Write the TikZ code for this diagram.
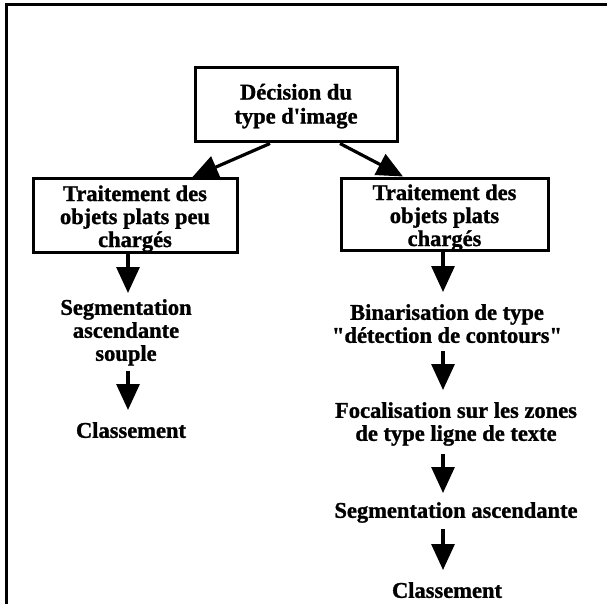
\documentclass[tikz,border=0pt]{standalone}
\usepackage{fontspec}
\newfontfamily\libser{Liberation Serif}[BoldFeatures={FakeBold=1.2}]
\usetikzlibrary{arrows.meta}
\begin{document}
\begin{tikzpicture}[x=1pt,y=-1pt,
  lbl/.style={inner sep=0pt, align=center, font=\libser\bfseries\fontsize{22.5pt}{23pt}\selectfont},
  txt/.style={lbl, anchor=north},
  boxnode/.style={lbl, draw, line width=3pt},
  arr/.style={line width=3.2pt, -{Triangle[length=26pt,width=23pt]}}]
\useasboundingbox (0,0) rectangle (607,604);
\draw[line width=3pt] (6,604) |- (607,5);
\node[boxnode, minimum width=202pt, minimum height=74pt, text height=42pt, font=\libser\bfseries\fontsize{22.5pt}{24pt}\selectfont] (top) at (296,105) {Décision du\\type d'image};
\node[boxnode, minimum width=204pt, minimum height=73pt, text height=68pt] (lbox) at (135,215.5) {Traitement des\\objets plats peu\\chargés};
\node[boxnode, minimum width=207pt, minimum height=71pt, text height=68pt] (rbox) at (444.5,214.5) {Traitement des\\objets plats\\chargés};
\node[txt] (seg) at (126,299) {Segmentation\\ascendante\\souple};
\node[txt] (cl1) at (131,422) {Classement};
\node[txt] (bin) at (447,304) {Binarisation de type\\"détection de contours"};
\node[txt] (foc) at (456,402) {Focalisation sur les zones\\de type ligne de texte};
\node[txt] (sega) at (456,502) {Segmentation ascendante};
\node[txt] (cl2) at (447,582) {Classement};
\draw[arr] ([xshift=-26pt]top.south) -- ([xshift=57pt]lbox.north);
\draw[arr] ([xshift=44pt]top.south) -- ([xshift=-41.5pt]rbox.north);
\draw[arr] ([xshift=-7pt]lbox.south) -- ([xshift=2pt,yshift=6pt]seg.north);
\draw[arr] ([xshift=2pt,yshift=-5pt]seg.south) -- ([xshift=-3pt,yshift=12pt]cl1.north);
\draw[arr] ([xshift=-1.5pt]rbox.south) -- ([xshift=-4pt,yshift=12pt]bin.north);
\draw[arr] ([xshift=-4pt,yshift=-7.7pt]bin.south) -- ([xshift=-13pt,yshift=12pt]foc.north);
\draw[arr] ([xshift=-13pt,yshift=-7.8pt]foc.south) -- ([xshift=-13pt,yshift=9pt]sega.north);
\draw[arr] ([xshift=-13pt,yshift=-5.8pt]sega.south) -- ([xshift=-4pt,yshift=12pt]cl2.north);
\end{tikzpicture}
\end{document}
